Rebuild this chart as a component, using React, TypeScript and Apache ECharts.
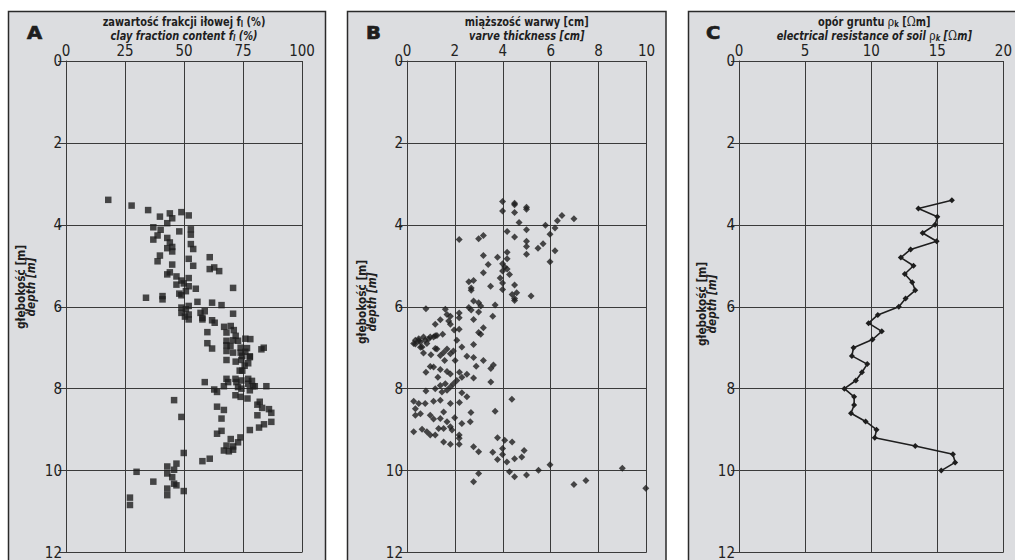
import React, { useEffect, useRef } from "react";
import * as echarts from "echarts";

// ---- Panel A: clay fraction content [%] vs depth [m]
const clayPoints: [number, number][] = [
  [17.9, 3.39], [27.8, 3.53], [34.8, 3.64], [39.8, 3.8], [44.0, 3.72], [45.0, 3.84], [48.9, 3.69], [52.0, 3.77],
  [42.9, 3.96], [37.0, 4.06], [40.1, 4.12], [48.0, 4.16], [52.9, 4.11], [52.9, 4.24], [38.8, 4.26], [37.0, 4.36],
  [42.9, 4.32], [44.0, 4.43], [52.9, 4.47], [53.9, 4.59], [42.9, 4.57], [45.0, 4.54], [45.0, 4.65], [39.8, 4.75],
  [38.8, 4.89], [52.0, 4.83], [60.9, 4.79], [45.0, 4.97], [53.9, 5.0], [60.9, 5.08], [62.8, 5.04], [64.9, 5.13],
  [42.9, 5.21], [44.0, 5.16], [46.8, 5.26], [52.0, 5.3], [48.9, 5.36], [46.8, 5.46], [49.9, 5.43], [52.0, 5.5],
  [55.0, 5.56], [70.8, 5.54], [33.9, 5.78], [40.9, 5.74], [40.9, 5.82], [48.0, 5.68], [48.9, 5.72], [50.8, 5.62],
  [55.7, 5.88], [61.9, 5.9], [65.9, 5.96], [48.9, 6.02], [48.9, 6.15], [50.8, 6.06], [52.0, 5.98], [52.0, 6.19],
  [50.4, 6.24], [52.0, 6.31], [57.0, 6.15], [58.8, 6.11], [57.8, 6.27], [57.8, 6.31], [70.8, 6.17], [61.9, 6.33],
  [63.0, 6.39], [59.9, 6.62], [59.9, 6.89], [61.9, 7.02], [67.0, 6.49], [69.8, 6.47], [71.1, 6.57], [68.0, 6.63],
  [71.9, 6.71], [68.0, 6.83], [70.8, 6.82], [72.9, 6.83], [76.0, 6.78], [78.1, 6.79], [68.0, 6.94], [69.7, 6.96],
  [74.0, 7.0], [76.7, 7.01], [68.0, 7.08], [70.8, 7.12], [74.0, 7.12], [76.0, 7.1], [74.7, 7.2], [77.9, 7.21],
  [68.0, 7.3], [71.9, 7.34], [74.3, 7.3], [77.2, 7.38], [82.8, 7.04], [83.8, 7.0], [77.9, 7.23], [75.7, 7.44],
  [74.7, 7.56], [73.6, 7.56], [58.8, 7.84], [68.0, 7.76], [68.7, 7.84], [66.9, 7.94], [71.8, 7.76], [72.2, 7.84],
  [74.3, 7.8], [77.2, 7.76], [78.8, 7.81], [77.2, 7.88], [79.3, 7.94], [80.0, 7.94], [84.9, 7.94], [72.9, 7.96],
  [74.3, 8.0], [77.9, 8.04], [62.8, 8.02], [64.0, 8.08], [71.8, 8.16], [74.0, 8.2], [76.9, 8.24], [45.8, 8.28],
  [82.1, 8.32], [81.1, 8.39], [83.1, 8.47], [86.0, 8.5], [87.0, 8.59], [87.0, 8.81], [81.1, 8.65], [83.9, 8.87],
  [81.8, 8.95], [77.9, 9.01], [64.0, 8.44], [66.9, 8.52], [65.9, 8.73], [48.9, 8.69], [65.9, 9.03], [64.0, 9.1],
  [73.9, 9.19], [72.9, 9.31], [69.8, 9.23], [68.0, 9.39], [66.9, 9.51], [69.0, 9.53], [70.8, 9.49], [70.8, 9.41],
  [49.9, 9.57], [60.9, 9.71], [57.8, 9.77], [46.8, 9.83], [42.9, 9.9], [45.8, 9.98], [29.9, 10.03], [42.9, 10.07],
  [45.0, 10.16], [37.0, 10.27], [45.8, 10.32], [46.8, 10.36], [42.9, 10.44], [49.9, 10.5], [42.9, 10.6],
  [27.1, 10.66], [27.1, 10.84],
];

// ---- Panel B: varve thickness [cm] vs depth [m]
const varvePoints: [number, number][] = [
  [3.99, 3.43], [4.49, 3.47], [4.49, 3.51], [4.99, 3.57], [4.99, 3.62], [3.99, 3.66], [4.49, 3.7], [6.47, 3.77],
  [6.97, 3.85], [6.28, 3.9], [4.68, 3.94], [5.78, 4.01], [6.18, 4.08], [4.18, 4.16], [4.99, 4.12], [5.97, 4.23],
  [3.19, 4.26], [2.99, 4.34], [2.18, 4.36], [4.49, 4.3], [4.99, 4.4], [4.99, 4.53], [5.68, 4.46], [5.47, 4.57],
  [6.18, 4.63], [4.99, 4.72], [3.19, 4.75], [3.78, 4.79], [4.18, 4.67], [4.18, 4.83], [5.97, 4.9], [3.39, 4.97],
  [3.99, 4.95], [4.08, 5.03], [4.18, 5.08], [3.99, 5.13], [3.19, 5.17], [4.28, 5.21], [3.89, 5.3], [3.99, 5.42],
  [4.49, 5.47], [2.58, 5.39], [2.78, 5.36], [3.49, 5.5], [2.68, 5.54], [2.68, 5.6], [3.99, 5.58], [4.58, 5.66],
  [4.39, 5.7], [4.49, 5.8], [4.49, 5.85], [5.18, 5.74], [2.78, 5.86], [2.99, 5.9], [3.08, 5.98], [3.68, 5.96],
  [2.58, 6.02], [2.68, 6.08], [2.99, 6.13], [3.58, 6.23], [2.78, 6.31], [0.79, 6.05], [1.6, 6.06], [1.67, 6.19],
  [1.81, 6.23], [1.74, 6.35], [1.39, 6.32], [1.18, 6.43], [2.18, 6.15], [2.18, 6.27], [1.81, 6.43], [1.97, 6.57],
  [2.18, 6.55], [3.19, 6.51], [2.99, 6.63], [3.08, 6.67], [1.49, 6.67], [1.18, 6.71], [0.97, 6.74], [0.69, 6.74],
  [0.49, 6.78], [0.35, 6.82], [0.56, 6.86], [0.76, 6.82], [0.83, 6.9], [0.63, 6.98], [0.28, 6.9], [2.08, 6.82],
  [2.78, 6.92], [2.29, 6.98], [1.18, 7.02], [1.67, 7.03], [1.94, 7.08], [1.53, 7.12], [0.35, 6.91], [0.49, 6.83],
  [0.9, 6.79], [1.11, 6.74], [1.25, 6.7], [0.56, 6.99], [0.69, 7.13], [1.0, 7.17], [1.25, 7.03], [1.39, 7.19],
  [1.57, 7.31], [1.81, 7.15], [2.01, 7.31], [2.5, 7.21], [2.78, 7.24], [3.19, 7.31], [2.89, 7.45], [3.61, 7.42],
  [3.5, 7.51], [0.97, 7.46], [1.11, 7.47], [0.79, 7.6], [1.39, 7.53], [1.67, 7.58], [1.81, 7.64], [1.29, 7.72],
  [2.19, 7.6], [2.5, 7.65], [2.78, 7.74], [3.5, 7.84], [2.29, 7.72], [2.08, 7.8], [1.94, 7.88], [1.6, 7.88],
  [1.81, 7.96], [1.67, 8.04], [1.46, 8.08], [1.39, 7.92], [0.79, 8.06], [1.18, 8.0], [2.29, 8.1], [2.5, 8.2],
  [2.19, 8.34], [1.81, 8.36], [4.38, 8.26], [0.28, 8.31], [0.49, 8.36], [0.76, 8.36], [1.11, 8.31], [1.39, 8.28],
  [0.35, 8.49], [0.35, 8.65], [0.56, 8.61], [0.97, 8.65], [1.11, 8.74], [1.39, 8.73], [1.53, 8.57], [1.99, 8.71],
  [1.67, 8.81], [2.67, 8.58], [3.68, 8.55], [2.64, 8.81], [2.29, 8.85], [1.81, 8.93], [1.88, 9.01], [1.53, 8.97],
  [1.32, 8.97], [0.28, 9.05], [0.63, 8.99], [0.83, 9.05], [0.97, 9.13], [1.18, 9.13], [2.18, 9.13], [2.18, 9.21],
  [1.53, 9.3], [1.81, 9.36], [2.18, 9.36], [2.78, 9.42], [2.99, 9.54], [3.78, 9.2], [4.08, 9.26], [4.39, 9.3],
  [3.99, 9.46], [3.58, 9.55], [4.89, 9.51], [3.78, 9.73], [4.17, 9.79], [4.49, 9.71], [4.79, 9.67], [3.99, 9.61],
  [2.99, 10.07], [2.78, 10.27], [4.28, 10.03], [4.49, 10.15], [4.99, 10.11], [5.49, 9.99], [5.97, 9.86],
  [6.97, 10.34], [7.47, 10.24], [8.99, 9.94], [9.97, 10.43],
];

// ---- Panel C: electrical resistance of soil [Ωm] vs depth [m]
const resistanceDepth = [
  3.4, 3.6, 3.8, 4.0, 4.2, 4.4, 4.6, 4.8, 5.0, 5.2, 5.4, 5.6, 5.8, 6.0, 6.2, 6.4, 6.6, 6.8,
  7.0, 7.2, 7.4, 7.6, 7.8, 8.0, 8.2, 8.4, 8.6, 8.8, 9.0, 9.2, 9.4, 9.6, 9.8, 10.0,
];
const resistanceValue = [
  16.1, 13.57, 15.0, 14.83, 13.89, 14.95, 12.98, 12.24, 13.2, 12.54, 13.1, 13.33, 12.6, 12.09, 10.5, 9.8, 10.8, 10.1,
  8.66, 8.54, 9.7, 9.3, 8.84, 7.97, 8.71, 8.71, 8.47, 9.58, 10.4, 10.27, 13.33, 16.18, 16.35, 15.3,
];

const depthTicks = { min: 0, max: 12, interval: 2 };
const clayTicks = { min: 0, max: 100, interval: 25 };
const varveTicks = { min: 0, max: 10, interval: 2 };
const resistTicks = { min: 0, max: 20, interval: 5 };

const NARROW = "'Liberation Sans Narrow', 'Arial Narrow', 'DejaVu Sans Condensed', sans-serif";
const INK = "#1e1e1e";
const GRID = "#3a3a3a";

export default function App() {
  const ref = useRef<HTMLDivElement>(null);
  useEffect(() => {
    if (!ref.current) return;
    const chart = echarts.init(ref.current, undefined, { renderer: "svg" });

    const grids = [
      { left: 66, top: 61, width: 236, height: 501 },
      { left: 407, top: 61, width: 239.5, height: 501 },
      { left: 739, top: 61, width: 270.5, height: 501 },
    ];
    const xTicks = [clayTicks, varveTicks, resistTicks];

    const xAxis = xTicks.map((t, i) => ({
      type: "value",
      gridIndex: i,
      position: "top",
      min: t.min,
      max: t.max,
      interval: t.interval,
      axisLine: { show: true, lineStyle: { color: GRID, width: 1 } },
      axisTick: { show: false },
      axisLabel: { color: "#222", fontFamily: NARROW, fontSize: 15, margin: 3 },
      splitLine: { show: true, lineStyle: { color: GRID, width: 1 } },
    }));
    const yAxis = grids.map((_, i) => ({
      type: "value",
      gridIndex: i,
      inverse: true,
      min: depthTicks.min,
      max: depthTicks.max,
      interval: depthTicks.interval,
      axisLine: { show: true, lineStyle: { color: GRID, width: 1 } },
      axisTick: { show: true, inside: false, length: 8, lineStyle: { color: GRID, width: 1 } },
      axisLabel: { color: "#222", fontFamily: NARROW, fontSize: 15, margin: 4 },
      splitLine: { show: true, lineStyle: { color: GRID, width: 1 } },
    }));

    const bold = { fontFamily: NARROW, fontWeight: "bold", fontSize: 13, lineHeight: 13, color: INK };
    const italic = { ...bold, fontStyle: "italic" };
    const rich = {
      b: bold,
      i: italic,
      bs: { ...bold, fontSize: 9, lineHeight: 8, verticalAlign: "bottom" },
      is: { ...italic, fontSize: 9, lineHeight: 8, verticalAlign: "bottom" },
      g: { fontFamily: "'DejaVu Serif', serif", fontSize: 13, lineHeight: 13, color: INK },
    };
    const titleText = (x: number, y: number, text: string) => ({
      type: "text",
      x,
      y,
      z: 10,
      scaleX: 0.84,
      style: { text, rich, align: "center", verticalAlign: "middle", fill: INK },
    });
    const letter = (x: number, text: string) => ({
      type: "text",
      x,
      y: 33,
      z: 10,
      scaleX: 1.15,
      style: {
        text,
        fill: INK,
        stroke: INK,
        lineWidth: 0.7,
        fontFamily: "'DejaVu Sans', sans-serif",
        fontWeight: 900,
        fontSize: 17,
        align: "left",
        verticalAlign: "middle",
      },
    });
    const yName = (x: number, y: number, text: string, italicName: boolean) => ({
      type: "text",
      x,
      y,
      z: 10,
      rotation: Math.PI / 2,
      scaleX: 0.9,
      style: {
        text,
        fill: INK,
        fontFamily: NARROW,
        fontWeight: "bold",
        fontStyle: italicName ? "italic" : "normal",
        fontSize: 13,
        align: "center",
        verticalAlign: "middle",
      },
    });
    const panel = (x: number, w: number) => ({
      type: "rect",
      z: -10,
      shape: { x, y: 11.5, width: w, height: 600 },
      style: { fill: "#dcdde0", stroke: "#2a2a2a", lineWidth: 1.5 },
    });

    const center = (g: { left: number; width: number }) => g.left + g.width / 2;

    chart.setOption({
      animation: false,
      backgroundColor: "#ffffff",
      grid: grids,
      xAxis,
      yAxis,
      graphic: [
        panel(8.5, 317),
        panel(347.5, 318.5),
        panel(688.5, 340),
        letter(27, "A"),
        letter(366, "B"),
        letter(706, "C"),
        titleText(center(grids[0]), 22, "{b|zawartość frakcji iłowej f}{bs|l}{b| (%)}"),
        titleText(center(grids[0]), 35.5, "{i|clay fraction content f}{is|l}{i| (%)}"),
        titleText(center(grids[1]), 22, "{b|miąższość warwy [cm]}"),
        titleText(center(grids[1]), 35.5, "{i|varve thickness [cm]}"),
        titleText(center(grids[2]), 22, "{b|opór gruntu }{g|ρ}{bs|k}{b| [}{g|Ω}{b|m]}"),
        titleText(center(grids[2]), 35.5, "{i|electrical resistance of soil }{g|ρ}{is|k}{i| [}{g|Ω}{i|m]}"),
        yName(21, 287, "głębokość [m]", false),
        yName(31, 287, "depth [m]", true),
        yName(362, 302, "głębokość [m]", false),
        yName(372, 302, "depth [m]", true),
        yName(702, 304, "głębokość [m]", false),
        yName(712, 304, "depth [m]", true),
      ],
      series: [
        {
          type: "scatter",
          xAxisIndex: 0,
          yAxisIndex: 0,
          symbol: "rect",
          symbolSize: 6.5,
          itemStyle: { color: INK },
          data: clayPoints,
        },
        {
          type: "scatter",
          xAxisIndex: 1,
          yAxisIndex: 1,
          symbol: "diamond",
          symbolSize: 7,
          itemStyle: { color: INK },
          data: varvePoints,
        },
        {
          type: "line",
          xAxisIndex: 2,
          yAxisIndex: 2,
          symbol: "diamond",
          symbolSize: 6,
          showSymbol: true,
          lineStyle: { color: INK, width: 1.6 },
          itemStyle: { color: INK },
          data: resistanceDepth.map((d, i) => [resistanceValue[i], d]),
        },
      ],
    });
    return () => chart.dispose();
  }, []);

  return (
    <div
      ref={ref}
      style={{ position: "fixed", left: 0, top: 0, width: 1015, height: 560 }}
    />
  );
}
